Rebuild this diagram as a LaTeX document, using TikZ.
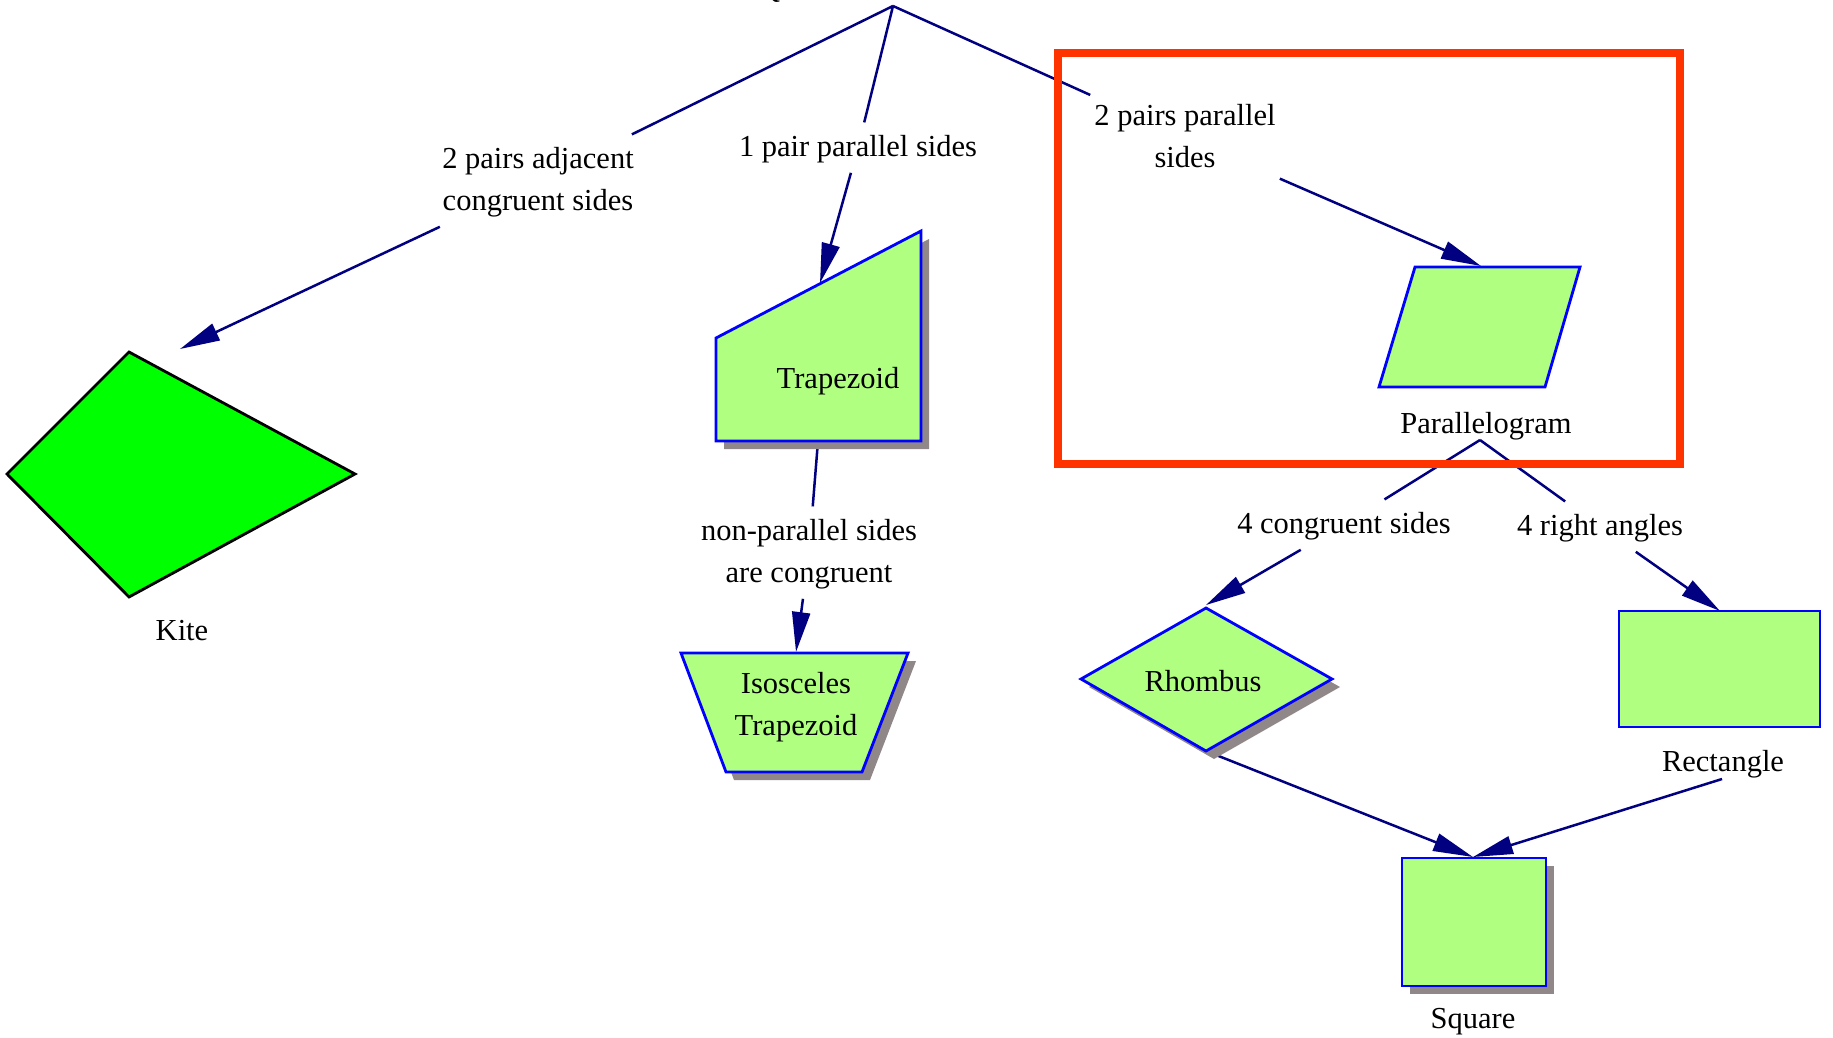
\documentclass[tikz,border=0pt]{standalone}
\usepackage{fontspec}
\setmainfont{Liberation Serif}
\usetikzlibrary{arrows.meta}
\definecolor{edgecol}{HTML}{000080}
\definecolor{nodeline}{HTML}{0000FF}
\definecolor{nodefill}{HTML}{B0FF80}
\definecolor{shadowcol}{HTML}{908888}
\definecolor{kitefill}{HTML}{00FF00}
\definecolor{boxred}{HTML}{FF3300}
\begin{document}
\begin{tikzpicture}[x=1pt,y=-1pt,
  every node/.style={font=\fontsize{30.5}{42}\selectfont, inner sep=0pt},
  lab/.style={inner xsep=4pt, inner ysep=4pt, align=center},
  txt/.style={anchor=base},
  edge/.style={draw=edgecol, line width=2.5pt},
  arr/.style={edge, -{Triangle[length=40pt,width=18pt]}},
  polyshape/.style={draw=nodeline, fill=nodefill, line width=2.8pt, line join=miter},
  shadowfill/.style={fill=shadowcol, shift={(8,8)}}]
\useasboundingbox (0,0) rectangle (1833,1037);

% fragment of the title at the top edge
\node[anchor=base west] (qfrag) at (758,-3) {Q};

% connection points
\coordinate (root) at (893,6);
\coordinate (kiteIn) at (180,349);
\coordinate (trapIn) at (820,283);
\coordinate (trapOut) at (818,441);
\coordinate (isoIn) at (796,652);
\coordinate (pgIn) at (1481,266);
\coordinate (pgApex) at (1480,440);
\coordinate (rhomIn) at (1206,605);
\coordinate (rhomOut) at (1206,751);
\coordinate (rectIn) at (1720,611);
\coordinate (rectOut) at (1722,779);
\coordinate (sqIn) at (1473,857);

% edge labels
\node[lab] (labAdj) at (538,180.6) {2 pairs adjacent\strut\\congruent sides\strut};
\node[lab] (labOne) at (858,147.6) {1 pair parallel sides\strut};
\node[lab] (labTwo) at (1185,137.6) {2 pairs parallel\strut\\sides\strut};
\node[lab] (labNon) at (809,552.6) {non-parallel sides\strut\\are congruent\strut};
\node[lab] (labFour) at (1344,524.6) {4 congruent sides\strut};
\node[lab] (labRight) at (1600,526.6) {4 right angles\strut};

% connectors
\draw[edge] (root) -- (labAdj);
\draw[arr] (labAdj) -- (kiteIn);
\draw[edge] (root) -- (labOne);
\draw[arr] (labOne) -- (trapIn);
\draw[edge] (root) -- (labTwo);
\draw[arr] (labTwo) -- (pgIn);
\draw[edge] (trapOut) -- (labNon);
\draw[arr] (labNon) -- (isoIn);
\draw[edge] (pgApex) -- (labFour);
\draw[arr] (labFour) -- (rhomIn);
\draw[edge] (pgApex) -- (labRight);
\draw[arr] (labRight) -- (rectIn);
\draw[arr] (rhomOut) -- (sqIn);
\draw[arr] (rectOut) -- (sqIn);

% Kite
\draw[fill=kitefill, draw=black, line width=2.8pt] (129,352) -- (355,474) -- (129,597) -- (7,474) -- cycle;
\node[txt] (kiteLab) at (182,640) {Kite};

% Trapezoid
\fill[shadowfill] (716,338) -- (921,231) -- (921,441) -- (716,441) -- cycle;
\draw[polyshape] (716,338) -- (921,231) -- (921,441) -- (716,441) -- cycle;
\node[txt] (trapLab) at (838,388) {Trapezoid};

% Isosceles trapezoid
\fill[shadowfill] (681,653) -- (908,653) -- (862,772) -- (726,772) -- cycle;
\draw[polyshape] (681,653) -- (908,653) -- (862,772) -- (726,772) -- cycle;
\node[txt, align=center] (isoLab) at (796,735) {Isosceles\\Trapezoid};

% Parallelogram
\draw[polyshape] (1415,267) -- (1580,267) -- (1545,387) -- (1379,387) -- cycle;
\node[txt] (pgLab) at (1486,433) {Parallelogram};

% Rhombus
\fill[shadowfill] (1206,608) -- (1332,679) -- (1206,751) -- (1081,679) -- cycle;
\draw[polyshape] (1206,608) -- (1332,679) -- (1206,751) -- (1081,679) -- cycle;
\node[txt] (rhomLab) at (1203,691) {Rhombus};

% Rectangle
\draw[polyshape] (1619,611) rectangle (1820,727);
\node[txt] (rectLab) at (1723,771) {Rectangle};

% Square
\fill[shadowfill] (1402,858) rectangle (1546,986);
\draw[polyshape] (1402,858) rectangle (1546,986);
\node[txt] (sqLab) at (1473,1028) {Square};

% highlight box
\draw[boxred, line width=8pt] (1058,53) rectangle (1680,464);
\end{tikzpicture}
\end{document}
